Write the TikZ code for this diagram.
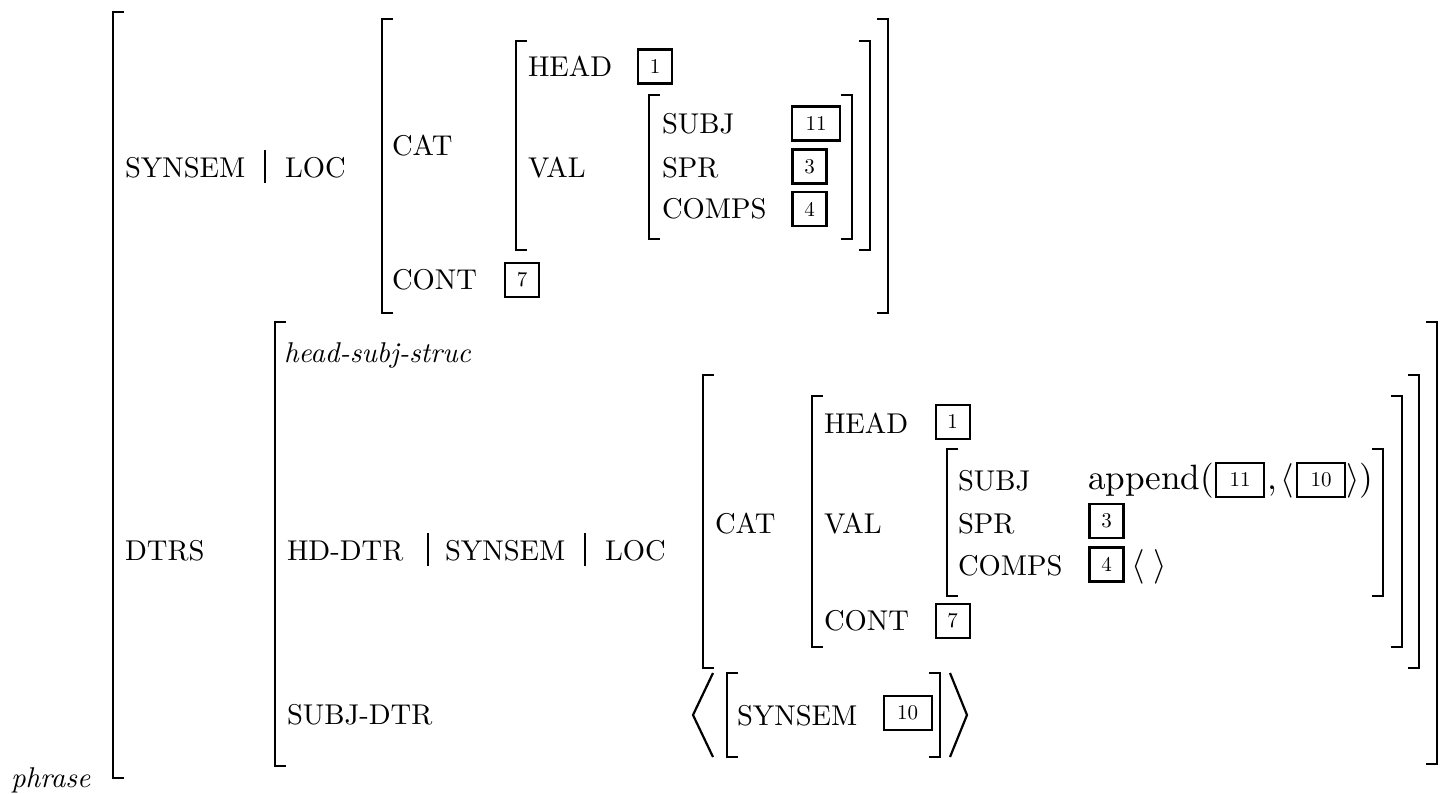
\documentclass[tikz,border=0pt]{standalone}
\usepackage{fontspec}
\setmainfont{lmroman10-regular.otf}[ItalicFont=lmroman10-italic.otf]
\newcommand{\avmfont}{\fontsize{14.3}{17}\selectfont}
\newcommand{\tagfnt}{\fontsize{10.5}{12}\selectfont}
\newcommand{\bigfnt}{\fontsize{17.6}{20}\selectfont}
\newcommand{\avmlb}[3]{\draw[brk] ({#1+11},#2) -- (#1,#2) -- (#1,#3) -- ({#1+11},#3);}
\newcommand{\avmrb}[3]{\draw[brk] ({#1-11},#2) -- (#1,#2) -- (#1,#3) -- ({#1-11},#3);}
\tikzset{
  brk/.style={line width=1.1pt},
  pbar/.style={line width=0.55pt},
  lbl/.style={anchor=base west, inner sep=0pt, outer sep=0pt, font=\avmfont},
  tagA/.style={draw, line width=1.4pt, inner sep=0pt, outer sep=0pt, font=\tagfnt,
               minimum width=17pt, minimum height=17pt},
  tagB/.style={tagA, line width=1.0pt},
  tagW/.style={minimum width=24pt},
}
\begin{document}
\begin{tikzpicture}[x=0.5pt,y=-0.5pt]
\useasboundingbox (0,0) rectangle (1445,793);

% ---------- outer matrix ----------
\avmlb{113}{12}{778}
\node[lbl, font=\avmfont\itshape] (phr) at (11,787) {phrase};

% ---------- SYNSEM | LOC ----------
\node[lbl] (syn) at (125,177) {SYNSEM};
\draw[pbar] (265,150) -- (265,183);
\node[lbl] (loc) at (285,177) {LOC};

\avmlb{382}{19}{313}
\avmrb{888}{19}{313}
\node[lbl] (cat) at (392,155) {CAT};
\node[lbl] (cont) at (392,289) {CONT};
\node[tagA] (t7) at (522,280) {7};

\avmlb{516}{41}{250}
\avmrb{870}{41}{250}
\node[lbl] (head) at (528,76) {HEAD};
\node[tagA] (t1) at (655,66.5) {1};
\node[lbl] (val) at (528,177) {VAL};

\avmlb{649}{95}{239}
\avmrb{852}{95}{239}
\node[lbl] (subj) at (662,133) {SUBJ};
\node[lbl] (spr) at (662,177) {SPR};
\node[lbl] (comps) at (662,218) {COMPS};
\node[tagA, tagW] (t11) at (816,123.5) {11};
\node[tagA] (t3) at (809.5,166.5) {3};
\node[tagA] (t4) at (809.5,209) {4};

% ---------- DTRS ----------
\node[lbl] (dtrs) at (125,560) {DTRS};
\avmlb{275}{322}{766}
\avmrb{1437}{322}{764}
\node[lbl, font=\avmfont\itshape] (hss) at (284,362) {head-subj-struc};

\node[lbl] (hd) at (287,560) {HD-DTR};
\draw[pbar] (428,533) -- (428,566);
\node[lbl] (syn2) at (445,560) {SYNSEM};
\draw[pbar] (585,533) -- (585,566);
\node[lbl] (loc2) at (605,560) {LOC};

\avmlb{703}{375}{668}
\avmrb{1419}{375}{668}
\node[lbl] (cat2) at (715,533) {CAT};

\avmlb{812}{396}{647}
\avmrb{1402}{396}{647}
\node[lbl] (head2) at (824,433) {HEAD};
\node[tagB] (u1) at (952.5,421.5) {1};
\node[lbl] (val2) at (824,533) {VAL};
\node[lbl] (cont2) at (824,630) {CONT};
\node[tagB] (u7) at (952.5,621) {7};

\avmlb{947}{449}{596}
\avmrb{1383}{449}{596}
\node[lbl] (subj2) at (958,490) {SUBJ};
\node[lbl] (spr2) at (958,533) {SPR};
\node[lbl] (comps2) at (958,575) {COMPS};

\node[lbl, font=\bigfnt] (app) at (1088,489) {append(};
\node[tagB, tagW] (u11) at (1240,479.5) {11};
\node[lbl, font=\bigfnt] (cm) at (1267,489) {,\hspace{2pt}$\langle$};
\node[tagB, tagW] (u10) at (1321,479.5) {10};
\node[lbl, font=\bigfnt] (cl) at (1346,489) {$\rangle$)};
\node[tagA] (u3) at (1106.5,521) {3};
\node[tagA] (u4) at (1106.5,564.5) {4};
\node[lbl, font=\bigfnt] (el) at (1131,575) {$\langle\;\rangle$};

% ---------- SUBJ-DTR ----------
\node[lbl] (sd) at (287,724) {SUBJ-DTR};
\draw[brk] (713,673) -- (693,715) -- (713,757);
\avmlb{727}{673}{757}
\node[lbl] (syn3) at (737,725) {SYNSEM};
\node[tagB, tagW] (v10) at (907.5,713) {10};
\avmrb{940}{673}{757}
\draw[brk] (950,673) -- (967,715) -- (950,757);
\end{tikzpicture}
\end{document}
